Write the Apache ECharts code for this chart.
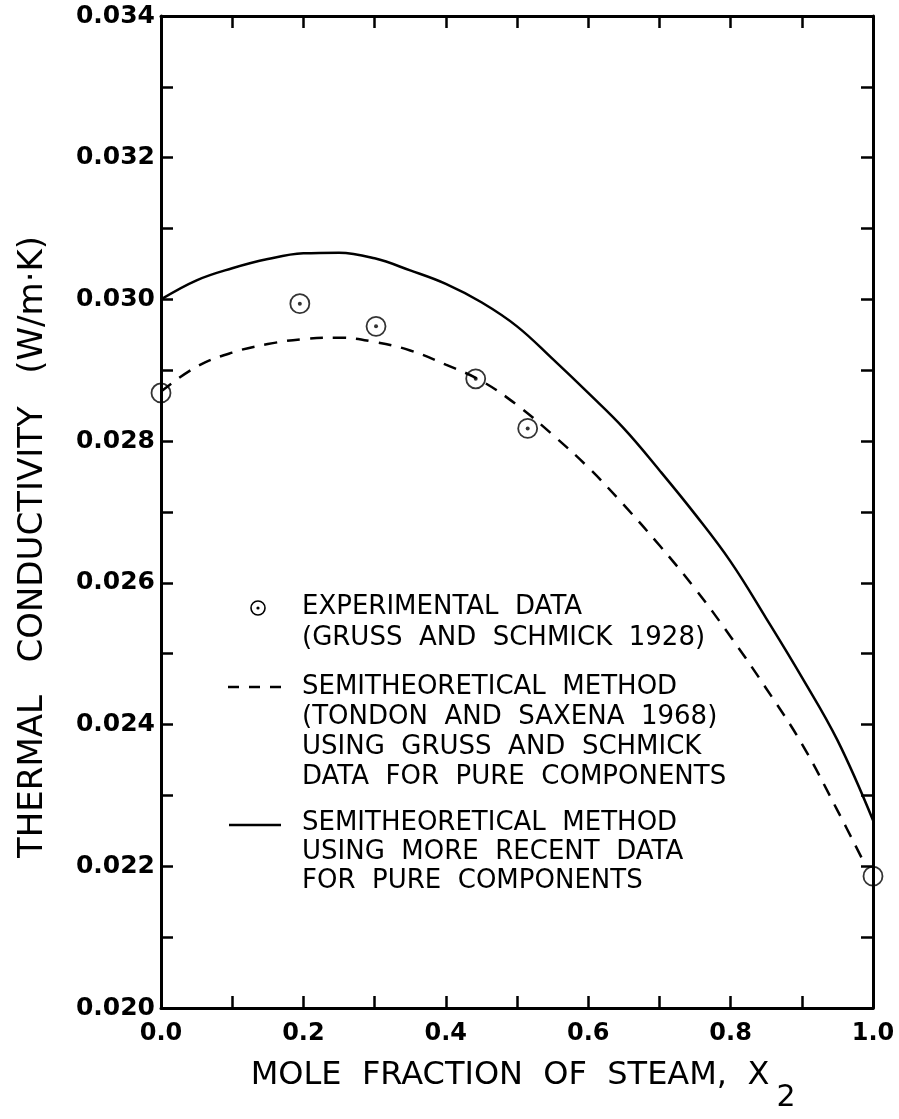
<!DOCTYPE html>
<html>
<head>
<meta charset="utf-8">
<script src="https://cdn.jsdelivr.net/npm/echarts@6/dist/echarts.min.js"></script>
<style>html,body{margin:0;padding:0;background:#fff}#c{width:899px;height:1119px}</style>
</head>
<body>
<div id="c"></div>
<script>
// Mole fraction grid where the curves were read
var curveX = [0.00,0.05,0.10,0.15,0.20,0.25,0.30,0.35,0.40,0.45,0.50,0.55,0.60,0.65,0.70,0.75,0.80,0.85,0.90,0.95,1.00];
// Semitheoretical method using more recent data (solid)
var recentY = [0.03000,0.03027,0.03044,0.03057,0.03065,0.03066,0.03058,0.03041,0.03022,0.02996,0.02962,0.02916,0.02868,0.02818,0.02759,0.02697,0.02630,0.02550,0.02467,0.02378,0.02265];
// Semitheoretical method, Tondon & Saxena 1968 (dashed)
var dashedX = [0.00,0.05,0.10,0.15,0.20,0.25,0.30,0.35,0.40,0.45,0.50,0.55,0.60,0.65,0.70,0.75,0.80,0.85,0.90,0.95,0.99];
var tondonY = [0.02870,0.02905,0.02925,0.02937,0.02944,0.02946,0.02940,0.02928,0.02908,0.02885,0.02851,0.02809,0.02763,0.02710,0.02653,0.02592,0.02524,0.02451,0.02373,0.02279,0.02200];
// Experimental data (Gruss and Schmick 1928)
var expX = [0.195,0.302,0.442,0.515];
var expY = [0.02994,0.02962,0.02888,0.02818];
// Pure component values (open circles)
var pureX = [0.0,1.0];
var pureY = [0.02868,0.02186];
// Tick labels
var xTickLabels = ['0.0','0.2','0.4','0.6','0.8','1.0'];
var yTickLabels = ['0.020','0.022','0.024','0.026','0.028','0.030','0.032','0.034'];

function zip(a,b){return a.map(function(v,i){return [v,b[i]];});}

var FONT = 'DejaVu Sans';
var chart = echarts.init(document.getElementById('c'), null, {renderer:'canvas'});

var axisLineStyle = {lineStyle:{color:'#000',width:3}, onZero:false};
var tickStyle = {show:true, inside:true, length:12, lineStyle:{color:'#000',width:2.5}};

function xFmt(v){var k=Math.round(v*10); return (k%2===0)? xTickLabels[k/2] : '';}
function yFmt(v){var k=Math.round(v*1000)-20; return (k%2===0)? yTickLabels[k/2] : '';}

var legendTexts = [
  ['EXPERIMENTAL  DATA', 607],
  ['(GRUSS  AND  SCHMICK  1928)', 638],
  ['SEMITHEORETICAL  METHOD', 687],
  ['(TONDON  AND  SAXENA  1968)', 717],
  ['USING  GRUSS  AND  SCHMICK', 747],
  ['DATA  FOR  PURE  COMPONENTS', 777],
  ['SEMITHEORETICAL  METHOD', 823],
  ['USING  MORE  RECENT  DATA', 852],
  ['FOR  PURE  COMPONENTS', 881]
];
var graphics = legendTexts.map(function(t){
  return {type:'text', x:302, y:t[1], style:{text:t[0], font:'26px '+FONT, fill:'#000', textVerticalAlign:'middle'}};
});
graphics.push(
  {type:'circle', shape:{cx:258, cy:608, r:7}, style:{fill:'none', stroke:'#000', lineWidth:1.6}},
  {type:'circle', shape:{cx:258, cy:608, r:1.6}, style:{fill:'#000'}},
  {type:'line', shape:{x1:228, y1:687, x2:283, y2:687}, style:{stroke:'#000', lineWidth:2.5, lineDash:[11,10]}},
  {type:'line', shape:{x1:229, y1:825, x2:281, y2:825}, style:{stroke:'#000', lineWidth:2.5}},
  {type:'text', x:33, y:547, rotation:Math.PI/2, style:{text:'THERMAL   CONDUCTIVITY   (W/m·K)', font:'34px '+FONT, fill:'#000', textAlign:'center', textVerticalAlign:'middle'}},
  {type:'text', x:510, y:1076, style:{text:'MOLE  FRACTION  OF  STEAM,  X', font:'32px '+FONT, fill:'#000', textAlign:'center', textVerticalAlign:'middle'}},
  {type:'text', x:786, y:1098, style:{text:'2', font:'30px '+FONT, fill:'#000', textAlign:'center', textVerticalAlign:'middle'}}
);

chart.setOption({
  animation:false,
  backgroundColor:'#fff',
  grid:{left:161, right:26, top:16, bottom:111, containLabel:false},
  xAxis:[
    {type:'value', min:0, max:1, interval:0.1, position:'bottom',
     axisLine:axisLineStyle, axisTick:tickStyle, splitLine:{show:false},
     axisLabel:{formatter:xFmt, color:'#000', fontFamily:FONT, fontWeight:'bold', fontSize:24, margin:14}},
    {type:'value', min:0, max:1, interval:0.1, position:'top',
     axisLine:axisLineStyle, axisTick:tickStyle, splitLine:{show:false}, axisLabel:{show:false}}
  ],
  yAxis:[
    {type:'value', min:0.020, max:0.034, interval:0.001, position:'left',
     axisLine:axisLineStyle, axisTick:tickStyle, splitLine:{show:false},
     axisLabel:{formatter:yFmt, color:'#000', fontFamily:FONT, fontWeight:'bold', fontSize:25, margin:6}},
    {type:'value', min:0.020, max:0.034, interval:0.001, position:'right',
     axisLine:axisLineStyle, axisTick:tickStyle, splitLine:{show:false}, axisLabel:{show:false}}
  ],
  series:[
    {type:'line', name:'recent', data:zip(curveX, recentY), smooth:0.4, symbol:'none',
     lineStyle:{color:'#000', width:2.5}, clip:false},
    {type:'line', name:'tondon', data:zip(dashedX, tondonY), smooth:0.4, symbol:'none',
     lineStyle:{color:'#000', width:2.5, type:[13,10]}, clip:false},
    {type:'scatter', name:'exp', data:zip(expX, expY), symbol:'circle', symbolSize:19,
     itemStyle:{color:'rgba(0,0,0,0)', borderColor:'#000', borderWidth:1.8}, clip:false, z:5},
    {type:'scatter', name:'expDot', data:zip(expX, expY), symbol:'circle', symbolSize:4,
     itemStyle:{color:'#000'}, clip:false, z:6},
    {type:'scatter', name:'pure', data:zip(pureX, pureY), symbol:'circle', symbolSize:19,
     itemStyle:{color:'rgba(0,0,0,0)', borderColor:'#000', borderWidth:1.8}, clip:false, z:5}
  ],
  graphic:graphics
});
</script>
</body>
</html>
